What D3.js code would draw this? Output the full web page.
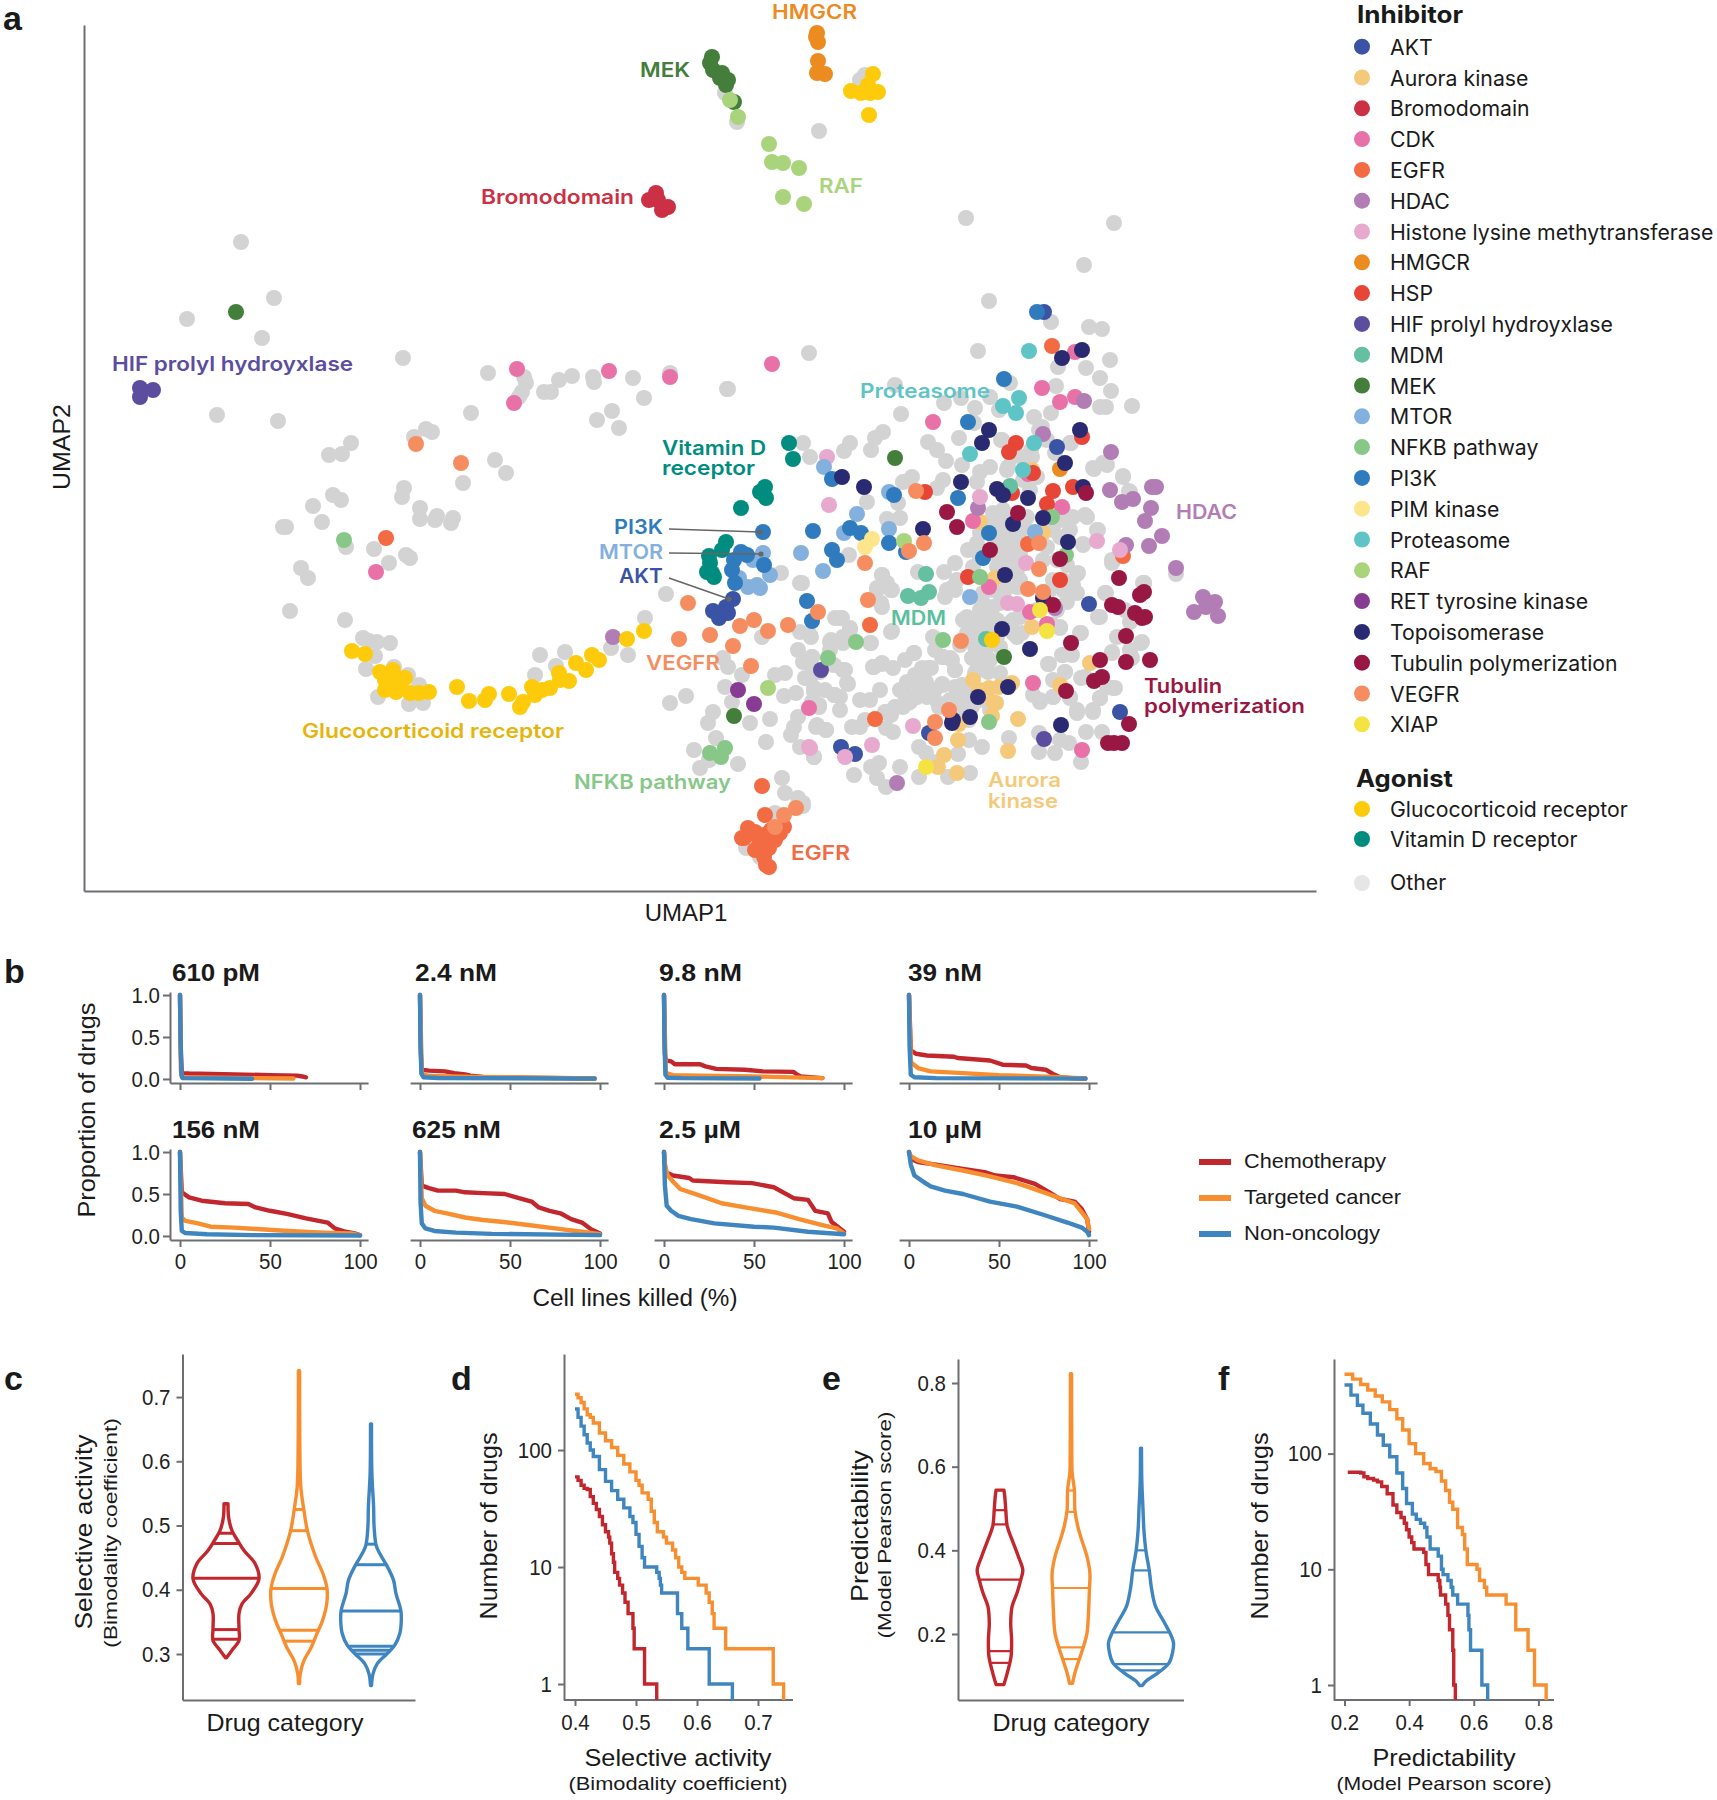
<!DOCTYPE html>
<html><head><meta charset="utf-8">
<script src="https://cdn.jsdelivr.net/npm/d3@7"></script>
<style>
html,body{margin:0;padding:0;background:#fff}
svg{display:block}
text{font-family:"Liberation Sans",sans-serif;fill:#1a1a1a}
.axis path,.axis line{stroke:#6d6e71;stroke-width:2;fill:none}
.axis text{font-family:"Liberation Sans",sans-serif;font-size:22px;fill:#222}
</style></head><body>
<svg id="c" width="1717" height="1800"></svg>
<script>
// ---------- Panel a data: UMAP coordinates ----------
const other=[[241,242],[274,298],[187,319],[262,338],[403,358],[217,415],[278,421],[488,373],[524,377],[526,383],[522,392],[519,397],[544,392],[551,392],[559,380],[572,376],[593,377],[594,382],[633,378],[644,398],[612,411],[597,420],[619,428],[670,373],[727,389],[471,413],[351,443],[329,455],[342,454],[414,437],[426,429],[432,432],[495,460],[404,488],[402,497],[420,508],[437,516],[420,519],[453,518],[463,483],[506,473],[313,506],[333,495],[341,500],[283,527],[389,563],[406,555],[301,568],[308,578],[290,611],[286,527],[322,522],[346,547],[374,549],[410,558],[345,620],[451,523],[435,520],
[363,638],[369,641],[377,642],[390,643],[375,656],[366,669],[394,667],[408,675],[378,697],[419,685],[409,704],[423,703],[535,675],[540,655],[565,652],[556,666],[611,648],[645,618],[628,655],[666,594],[686,696],[670,703],[723,658],[728,667],[742,675],[725,687],[713,712],[708,723],[732,702],[750,723],[770,719],[766,742],[716,738],[694,750],[700,768],[709,760],[738,764],[782,778],[785,793],[803,806],[798,798],[775,813],[746,848],[760,857],[800,583],[781,573],[800,632],[811,637],[762,637],[835,618],[830,642],[812,657],[809,663],[805,678],[785,673],[775,675],[784,696],[796,693],[814,692],[812,702],[835,695],[798,717],[791,735],[816,727],[826,730],[800,747],[814,757],[819,707],[794,727],
[860,80],[865,75],[819,131],[737,122],[725,93],
[966,218],[1114,223],[1084,265],[989,301],[1051,322],[1089,327],[1102,329],[978,351],[809,353],[728,389],[1110,360],[1086,368],[1058,367],[1100,378],[1111,391],[1056,386],[1132,406],[1106,407],[1100,407],[1034,417],[1051,413],[1010,383],[990,397],[999,410],[961,398],[944,403],[975,408],[895,385],[901,414],[974,423],[1039,430],[959,438],[928,442],[937,450],[946,461],[883,432],[875,438],[871,450],[850,443],[844,451],[803,443],[810,457],[1002,440],[1031,450],[1071,443],[1107,465],[1094,469],[1123,476],[1129,491],[1085,515],[1098,530],[1083,544],[1113,561],[1144,583],[1176,574],[1077,574],[1106,593],
[962,465],[990,467],[980,472],[977,482],[1008,467],[1001,440],[943,480],[937,488],[912,477],[903,482],[898,503],[867,502],[900,518],[887,519],[849,555],[882,575],[887,583],[892,590],[877,588],[882,607],[892,631],[918,572],[955,563],[968,550],[944,572],[947,590],[957,580],[955,590],[945,597],[987,523],[980,533],[993,513],[1003,510],[1003,520],[1007,537],[1013,547],[1003,547],[995,540],[1007,557],[1015,558],[997,567],[993,553],[1013,530],[1017,570],[1020,580],[993,590],[983,593],[1007,588],[993,607],[980,610],[973,622],[967,617],[987,620],[967,633],[983,630],[977,642],[997,637],[1017,637],[1020,617],[1010,623],[972,658],[983,657],[977,670],[988,672],[942,657],[952,660],[955,670],[914,653],[933,637],[873,667],[882,664],[922,670],[928,668],[917,680],[907,683],[922,687],[942,684],[927,697],[915,697],[908,703],[895,707],[885,712],[938,703],[958,690],[963,700],[957,707],[972,707],[847,683],[840,697],[845,670],[870,643],[850,630],[843,637],[842,618],
[1023,480],[1037,477],[1030,490],[1013,517],[1063,510],[1070,530],[1053,530],[1073,517],[1060,520],[1025,528],[1087,517],[1097,530],[1083,545],[1112,560],[1078,573],[1077,593],[1063,590],[1067,602],[1057,610],[1098,617],[1080,633],[1060,627],[1049,664],[1065,672],[1053,680],[1063,655],[1070,653],[1085,677],[1033,695],[1040,702],[1053,697],[1070,697],[1077,710],[1093,710],[1100,698],[1115,688],[1107,687],[1112,653],[1117,637],[1130,650],[1142,642],[1130,622],[1125,610],[1143,583],[1105,593],[1112,563],[1123,477],[1130,492],[1093,468],[1103,463],[1055,453],[1070,443],[1042,427],[1047,440],[1032,457],[1022,457],[1012,457],[1007,470],[1057,560],[1043,560],[1053,580],[1063,580],[1003,593],[1023,587],[1060,537],
[882,575],[877,590],[891,590],[881,603],[840,618],[850,628],[845,637],[831,640],[843,643],[871,643],[810,635],[802,583],[891,632],[812,657],[803,662],[834,665],[843,670],[848,684],[834,695],[810,678],[814,688],[819,705],[914,653],[874,667],[882,663],[943,657],[950,658],[955,670],[922,668],[931,668],[919,675],[907,682],[926,682],[920,688],[929,695],[917,697],[910,702],[903,707],[896,707],[891,715],[886,712],[865,720],[852,727],[860,727],[886,728],[893,732],[826,730],[817,725],[943,685],[939,707],[955,687],[962,685],[957,697],[962,703],[969,693],[969,720],[969,740],[982,747],[958,754],[1009,738],[919,747],[926,753],[933,762],[919,777],[948,777],[970,773],[900,767],[879,763],[871,767],[854,775],[877,778],[886,787],[814,757],[803,803],[1040,700],[1053,697],[1070,698],[1077,713],[1093,712],[1100,698],[1113,688],[1048,664],[1065,672],[1081,678],[1112,652],[1072,655],[1062,655],[1132,658],[1141,643],[1144,583],[1100,617],[1081,633],[1060,628],[1039,733],[1060,740],[1069,743],[1055,753],[1039,752],[1086,732],[1102,732],[1081,762],
[997,517],[1017,517],[1027,517],[1000,530],[1010,530],[1020,530],[977,543],[997,543],[1017,543],[1023,543],[978,553],[1000,553],[1020,553],[973,567],[1000,567],[1008,567],[953,587],[1017,587],[983,603],[1000,603],[963,620],[972,620],[997,620],[1013,620],[975,633],[990,633],[1013,633],[1022,633],[975,647],[987,647],[1000,647],[980,660],[990,660],[975,673],[1000,673],[1047,547],[1067,565],[1073,585],[1050,590],[1037,610],[1053,625],[900,690],[915,675],[935,690],[950,700],[965,715],[980,700],[990,710],[905,695],[830,650],[820,672],[798,650],[825,690],[840,710],[860,700],[880,690],[870,700],[893,668],[905,660],[935,650],[960,645]];
const akt=[[1044,312],[733,599],[726,607],[713,611],[719,618],[728,613],[1057,447],[1089,604],[1120,712],[929,733],[841,747],[855,754]];
const aurora=[[973,680],[979,690],[989,688],[999,687],[1012,683],[993,702],[996,703],[992,716],[1018,719],[959,724],[958,740],[944,755],[938,767],[957,773],[1008,751],[1090,663],[1060,685],[1032,627],[980,522],[995,578],[1043,533],[1032,470]];
const bromodomain=[[656,193],[649,200],[662,210],[668,207],[658,200]];
const cdk=[[517,369],[609,371],[670,377],[514,403],[772,364],[1075,352],[1042,388],[1060,402],[1075,397],[933,422],[376,572],[809,708],[1028,474],[973,521],[1062,507],[989,587],[1030,612],[1047,624],[1033,683],[1082,750]];
const egfr=[[1052,346],[1028,544],[1123,556],[870,625],[386,538],[762,786],[765,815],[784,827],[748,828],[755,832],[744,838],[764,835],[775,840],[769,848],[755,850],[742,838],[764,857],[769,867],[766,865],[760,850],[771,830],[759,840],[780,833],[875,719]];
const hdac=[[1111,452],[1110,490],[1152,487],[1156,487],[1122,502],[1133,499],[1151,508],[1145,521],[1162,536],[1149,546],[1126,545],[1176,568],[1043,434],[1084,401],[978,508],[613,637],[1055,608],[1203,597],[1215,602],[1206,607],[1194,612],[1218,616],[897,783]];
const histone=[[827,457],[829,505],[980,497],[1097,541],[1026,563],[1008,603],[1017,604],[1120,550],[810,748],[913,726],[809,747],[872,745],[845,757]];
const hmgcr=[[817,33],[818,42],[816,37],[818,61],[817,73],[825,74],[1060,469]];
const hsp=[[1082,437],[1016,443],[1009,452],[1033,473],[1053,491],[1047,504],[1073,487],[1012,493],[925,492],[968,577],[1060,580]];
const hif=[[140,388],[153,390],[140,397],[821,670],[1044,739]];
const mdm=[[926,574],[908,596],[921,598],[929,592],[986,639],[1010,486]];
const mek=[[712,57],[710,63],[713,70],[722,73],[720,78],[728,80],[726,85],[734,102],[236,312],[895,458],[734,716],[1004,657]];
const mtor=[[824,467],[889,492],[857,514],[844,533],[889,529],[801,553],[823,571],[1035,532],[763,553],[770,575],[970,597],[753,560],[748,587],[757,585],[760,588],[739,578]];
const nfkb=[[1052,517],[1066,555],[980,577],[943,640],[856,642],[344,540],[828,658],[710,753],[721,757],[725,748],[989,722]];
const pi3k=[[1037,312],[1004,379],[968,422],[832,479],[894,495],[958,498],[813,531],[850,528],[861,533],[889,543],[832,550],[837,560],[906,552],[983,558],[989,533],[763,532],[741,552],[747,555],[734,560],[732,570],[764,565],[735,583],[807,601],[812,621]];
const pim=[[872,539],[865,547]];
const proteasome=[[1029,351],[1019,398],[1003,406],[1016,413],[1034,443],[970,454],[1023,470]];
const raf=[[730,100],[738,117],[769,144],[772,162],[783,163],[799,168],[783,197],[804,204],[768,688],[904,541]];
const ret=[[738,690],[754,704]];
const topo=[[989,430],[982,443],[842,477],[864,487],[961,482],[997,489],[1003,495],[1028,498],[1080,430],[1065,463],[1083,487],[1043,518],[1013,524],[923,529],[1068,542],[1005,575],[1002,629],[1030,649],[1043,598],[978,697],[1008,687],[970,717],[953,720],[1082,350],[1062,358],[1061,725],[952,723]];
const tubulin=[[947,512],[957,527],[1018,513],[990,550],[1060,559],[1086,493],[1119,578],[1140,595],[1144,592],[1112,605],[1118,607],[1135,613],[1142,618],[1145,617],[1126,636],[1071,643],[1100,660],[1126,662],[1150,660],[1102,677],[1094,681],[1066,691],[1053,605],[1129,724],[1108,743],[1114,743],[1122,743]];
const vegfr=[[416,444],[461,463],[688,603],[679,639],[710,635],[740,626],[754,620],[768,631],[788,625],[733,646],[751,666],[818,612],[796,808],[784,815],[775,827],[916,491],[924,543],[909,551],[865,563],[1039,569],[1028,589],[1043,592],[868,600],[961,641],[1039,543],[949,710],[935,722],[935,738]];
const xiap=[[1040,610],[1047,631],[926,767]];
const glucocorticoid=[[873,74],[851,91],[861,93],[868,85],[870,93],[878,92],[869,115],[352,651],[365,654],[380,672],[393,670],[405,678],[385,680],[394,680],[400,683],[385,690],[396,692],[410,693],[419,693],[429,692],[457,687],[469,701],[485,700],[489,694],[509,694],[523,702],[520,707],[532,687],[535,695],[542,690],[550,688],[559,673],[569,681],[560,680],[576,663],[586,670],[592,655],[599,660],[627,639],[644,631],[992,640]];
const vitaminD=[[789,443],[793,459],[765,487],[760,492],[766,498],[741,508],[726,542],[722,550],[709,556],[710,563],[712,573],[707,572],[714,577]];

const inhibitorNames=["AKT","Aurora kinase","Bromodomain","CDK","EGFR","HDAC","Histone lysine methytransferase","HMGCR","HSP","HIF prolyl hydroyxlase","MDM","MEK","MTOR","NFKB pathway","PI3K","PIM kinase","Proteasome","RAF","RET tyrosine kinase","Topoisomerase","Tubulin polymerization","VEGFR","XIAP"];
const inhibitorColors=["#3a53a4","#f5c97a","#cb3044","#e871a8","#f26b43","#b27cb5","#e8a9cf","#ec8b1f","#e74536","#5c4d9f","#65bfa1","#437e3a","#84b0de","#87c889","#2f7bbd","#fde58c","#5ec4c6","#a9d47b","#883b92","#2a2a72","#991743","#f68d60","#f4e343"];
const inhibitorPoints=[akt,aurora,bromodomain,cdk,egfr,hdac,histone,hmgcr,hsp,hif,mdm,mek,mtor,nfkb,pi3k,pim,proteasome,raf,ret,topo,tubulin,vegfr,xiap];
const agonistNames=["Glucocorticoid receptor","Vitamin D receptor"];
const agonistColors=["#fdcb0b","#008c7f"];
const agonistPoints=[glucocorticoid,vitaminD];

// ---------- Panel b data ----------
const doses=["610 pM","2.4 nM","9.8 nM","39 nM","156 nM","625 nM","2.5 µM","10 µM"];
const killRed=[
[[0,1],[.5,.3],[1,.07],[5,.065],[30,.055],[50,.045],[65,.04],[68,.03],[70,.02]],
[[0,1],[.5,.3],[1,.11],[5,.1],[14,.09],[19,.07],[25,.055],[28,.04],[35,.025],[57,.015],[80,.01],[97,.005]],
[[0,1],[.5,.3],[1,.22],[4,.21],[6,.175],[20,.175],[23,.15],[29,.12],[45,.11],[55,.09],[72,.085],[74,.05],[76,.03],[88,.01]],
[[0,1],[1,.34],[4,.3],[10,.28],[25,.265],[27,.25],[45,.22],[52,.17],[65,.16],[68,.13],[76,.11],[80,.06],[84,.02],[90,.01],[98,.005]],
[[0,1],[1,.52],[5,.46],[12,.42],[25,.39],[38,.38],[42,.34],[50,.3],[60,.26],[70,.21],[82,.16],[86,.09],[92,.05],[97,.03],[100,.01]],
[[0,1],[1,.6],[5,.57],[10,.54],[20,.54],[25,.52],[35,.51],[47,.5],[55,.45],[62,.41],[66,.34],[72,.3],[78,.27],[84,.2],[90,.16],[95,.08],[100,.03]],
[[0,1],[.5,.85],[1,.76],[5,.72],[14,.69],[16,.66],[35,.64],[49,.63],[61,.58],[72,.45],[80,.43],[84,.3],[91,.27],[93,.17],[100,.05]],
[[0,1],[1,.92],[5,.88],[15,.85],[30,.8],[42,.76],[48,.72],[58,.7],[70,.62],[78,.52],[84,.44],[92,.41],[96,.32],[99,.2],[100,.05]]];
const killOrange=[
[[0,1],[.5,.1],[1,.02],[40,.01],[63,.005]],
[[0,1],[1,.06],[5,.035],[30,.025],[57,.018],[97,.005]],
[[0,1],[1,.07],[5,.045],[20,.04],[50,.03],[88,.01]],
[[0,1],[1,.2],[5,.13],[12,.09],[30,.07],[50,.045],[80,.025],[98,.005]],
[[0,1],[1,.22],[3,.18],[10,.15],[17,.11],[30,.1],[45,.08],[60,.06],[80,.04],[95,.03],[100,.01]],
[[0,1],[1,.45],[3,.36],[8,.3],[15,.27],[25,.22],[35,.19],[45,.17],[60,.13],[75,.09],[90,.05],[100,.02]],
[[0,1],[.5,.85],[2,.72],[5,.65],[9,.56],[20,.48],[32,.39],[45,.34],[62,.28],[75,.2],[88,.13],[96,.09],[100,.03]],
[[0,1],[1,.95],[5,.9],[15,.84],[30,.78],[45,.71],[60,.63],[75,.52],[85,.44],[92,.39],[96,.28],[99,.2],[100,.08]]];
const killBlue=[
[[0,1],[.3,.5],[.8,.05],[1.5,.01],[40,.003]],
[[0,1],[.3,.4],[.8,.06],[2,.02],[10,.012],[97,.004]],
[[0,1],[.3,.4],[.8,.05],[2,.015],[10,.01],[53,.005]],
[[0,1],[.3,.4],[1,.05],[3,.02],[15,.01],[98,.004]],
[[0,1],[.4,.3],[1,.06],[3,.035],[15,.02],[40,.01],[100,.005]],
[[0,1],[.3,.4],[1,.15],[3,.09],[8,.06],[20,.04],[40,.025],[100,.01]],
[[0,1],[.5,.6],[1.5,.36],[4,.3],[8,.24],[15,.2],[28,.15],[50,.11],[61,.1],[80,.05],[100,.02]],
[[0,1],[1,.85],[3,.72],[7,.66],[12,.59],[20,.54],[30,.5],[45,.41],[60,.35],[75,.25],[88,.16],[96,.1],[99,.05],[100,.01]]];
const drugCategories=["Chemotherapy","Targeted cancer","Non-oncology"];
const drugColors=["#c1272d","#f78e2f","#3f85bf"];

// ---------- Panel c / e violins: [value, density] ----------
const bimodRed=[[.294,.5],[.306,6],[.321,13],[.339,13],[.363,13],[.378,16],[.394,25],[.417,33],[.441,29],[.461,18],[.477,11.5],[.492,6],[.513,2.6],[.534,2]];
const bimodOrange=[[.254,.6],[.269,1.2],[.29,5],[.308,11.5],[.332,18],[.352,23.5],[.378,27.7],[.402,28],[.425,24],[.451,16.7],[.492,8.4],[.526,4.7],[.56,1.8],[.633,.8],[.741,.6]];
const bimodBlue=[[.251,.5],[.269,2],[.285,6.3],[.3,15.7],[.313,23.5],[.332,28.8],[.352,30.3],[.368,29.8],[.394,25],[.415,22.5],[.438,15.7],[.456,8.9],[.469,5.2],[.498,3.1],[.529,2.6],[.581,.9],[.658,.5]];
const bimodQuant=[[.488,.472,.418,.338,.323],[.525,.492,.402,.337,.32],[.471,.439,.367,.312,.306,.3]];
const predRed=[[.079,3.9],[.107,7.3],[.147,11.1],[.186,11.6],[.226,10.7],[.266,12.1],[.298,17],[.33,20.8],[.353,22.8],[.385,18.4],[.425,12.1],[.457,7.3],[.496,5.8],[.528,4.8],[.544,3.9]];
const predOrange=[[.082,1.5],[.107,3.9],[.139,8.2],[.167,12.1],[.202,16],[.25,17.5],[.306,18.4],[.345,18.9],[.385,16],[.425,10.7],[.457,6.8],[.496,3.9],[.544,3.4],[.584,1.2],[.632,.8],[.822,.6]];
const predBlue=[[.077,1.5],[.087,4.8],[.107,17],[.131,28.1],[.155,31.5],[.179,32.5],[.202,29],[.234,21.8],[.266,14.5],[.306,10.7],[.353,8.2],[.401,4.8],[.449,2.9],[.504,1.9],[.568,.8],[.644,.5]];
const predQuant=[[.496,.462,.33,.159,.131],[.543,.492,.31,.168,.14],[.4,.352,.204,.128,.113]];

// ---------- Panel d / f survival counts: [score, number of drugs] ----------
const bimodCountRed=[[.4,59],[.405,55],[.41,50],[.415,47],[.42,46],[.425,40],[.43,35],[.435,31],[.44,27],[.445,23],[.45,20],[.455,18],[.457,16],[.46,13],[.463,11],[.465,9],[.47,8],[.473,7],[.478,6],[.482,5],[.487,4],[.495,3],[.497,2],[.514,1],[.534,.73]];
const bimodCountOrange=[[.4,300],[.405,280],[.41,255],[.415,225],[.42,200],[.425,190],[.43,170],[.44,140],[.45,120],[.46,105],[.47,90],[.48,76],[.49,65],[.5,55],[.505,50],[.51,43],[.52,38],[.525,30],[.53,24],[.535,20],[.545,18],[.55,16],[.56,14],[.565,12],[.57,10],[.575,9],[.58,8],[.602,7],[.615,6],[.62,5],[.625,4],[.628,3],[.647,2],[.725,1],[.742,.73]];
const bimodCountBlue=[[.4,224],[.405,190],[.41,160],[.415,135],[.42,115],[.425,100],[.43,88],[.44,68],[.45,54],[.46,45],[.47,38],[.48,32],[.49,27],[.495,24],[.5,19],[.505,15],[.51,12],[.514,10],[.534,9],[.538,8],[.54,7],[.542,6],[.568,4],[.575,3],[.585,2],[.62,1],[.658,.73]];
const predCountRed=[[.21,69],[.25,68],[.26,63],[.272,61],[.29,59],[.302,57],[.315,52],[.332,45],[.35,36],[.362,31],[.375,28],[.385,25],[.392,22],[.4,19],[.408,17],[.415,15],[.445,14],[.452,11],[.46,9],[.49,8],[.495,7],[.497,6],[.513,5],[.52,4],[.525,3],[.535,2],[.538,1],[.543,.742]];
const predCountOrange=[[.2,485],[.225,440],[.25,395],[.272,355],[.295,315],[.317,280],[.34,240],[.362,200],[.38,160],[.4,122],[.42,100],[.445,82],[.465,74],[.483,70],[.5,58],[.513,48],[.525,38],[.535,33],[.55,23],[.565,20],[.572,15],[.58,11],[.61,10],[.618,8],[.633,7],[.64,6],[.7,5],[.73,3],[.768,2],[.788,1],[.824,.742]];
const predCountBlue=[[.2,392],[.22,320],[.24,262],[.257,223],[.28,180],[.302,145],[.32,118],[.34,94],[.362,68],[.38,50],[.392,37],[.41,30],[.422,27],[.435,25],[.448,23],[.455,19],[.465,15],[.49,13],[.5,10],[.505,9],[.52,8],[.53,7],[.535,6],[.55,5],[.582,4],[.585,3],[.59,2],[.625,1],[.643,.742]];

// ---------- drawing ----------
const svg=d3.select("#c");
function label(t,x,y,o={}){
  const e=svg.append("text").attr("x",x).attr("y",y).text(t)
    .attr("text-anchor",o.anchor||"start").style("font-size",(o.size||20)+"px");
  if(o.weight)e.style("font-weight",o.weight);
  if(o.family)e.style("font-family",o.family);
  if(o.fill)e.style("fill",o.fill);
  if(o.len)e.attr("textLength",o.len).attr("lengthAdjust","spacingAndGlyphs");
  if(o.rot)e.attr("transform",`rotate(${o.rot} ${x} ${y})`);
  return e;
}
const sans="Inter";
// Panel a
const ux=d3.scaleLinear().domain([84,1316]).range([84,1316]);
const uy=d3.scaleLinear().domain([891,25]).range([891,25]);
svg.append("g").attr("class","axis").attr("transform","translate(84,0)").call(d3.axisLeft(uy).tickValues([]).tickSizeOuter(0));
svg.append("g").attr("class","axis").attr("transform","translate(0,891)").call(d3.axisBottom(ux).tickValues([]).tickSizeOuter(0));
const R=8;
function dots(pts,col){svg.append("g").selectAll("circle").data(pts).join("circle").attr("cx",d=>ux(d[0])).attr("cy",d=>uy(d[1])).attr("r",R).attr("fill",col);}
dots(other,"#d3d3d3");
inhibitorPoints.forEach((p,i)=>dots(p,inhibitorColors[i]));
agonistPoints.forEach((p,i)=>dots(p,agonistColors[i]));
// leader lines for PI3K / MTOR / AKT
const leaders=[[669,529,760,532],[669,553,761,554],[669,578,729,599]];
leaders.forEach(l=>{
  svg.append("line").attr("x1",l[0]).attr("y1",l[1]).attr("x2",l[2]).attr("y2",l[3]).attr("stroke","#666").attr("stroke-width",1.6);
  svg.append("circle").attr("cx",l[2]).attr("cy",l[3]).attr("r",2.6).attr("fill","#666");
});
const clusterLabels=[
["HMGCR",772,19,85,"#ec8b1f"],["MEK",640,77,50,"#437e3a"],["RAF",819,193,44,"#a9d47b"],["Bromodomain",481,204,153,"#cb3044"],
["HIF prolyl hydroyxlase",112,371,241,"#5c4d9f"],["Proteasome",860,398,130,"#5ec4c6"],["Vitamin D",662,455,104,"#008c7f"],["receptor",662,475,93,"#008c7f"],
["HDAC",1176,519,61,"#b27cb5"],["PI3K",614,534,49,"#2f7bbd"],["MTOR",599,559,64,"#84b0de"],["AKT",619,583,44,"#3a53a4"],["MDM",891,625,55,"#5bbf9e"],
["VEGFR",646,670,74,"#f68d60"],["Glucocorticoid receptor",302,738,262,"#e5b50e"],["NFKB pathway",574,789,157,"#87c889"],["EGFR",791,860,59,"#f26b43"],
["Aurora",988,787,73,"#f5c97a"],["kinase",988,808,70,"#f5c97a"],["Tubulin",1144,693,78,"#991743"],["polymerization",1144,713,161,"#991743"]];
clusterLabels.forEach(l=>label(l[0],l[1],l[2],{size:20,weight:600,family:sans,fill:l[4],len:l[3]}));
label("UMAP1",686,921,{anchor:"middle",size:24});
label("UMAP2",70,447,{anchor:"middle",size:24,rot:-90,len:86});
// legend
const lx=1362,tx=1390;
const legendSize=21.25;
label("Inhibitor",1357,23,{size:24,weight:700,family:sans,len:106});
inhibitorNames.forEach((n,i)=>{
  const y=46.7+i*30.8;
  svg.append("circle").attr("cx",lx).attr("cy",y).attr("r",8).attr("fill",inhibitorColors[i]);
  label(n,tx,y+8,{size:legendSize,family:sans});
});
label("Agonist",1356,787,{size:24,weight:700,family:sans,len:97});
agonistNames.forEach((n,i)=>{
  const y=809+i*30;
  svg.append("circle").attr("cx",lx).attr("cy",y).attr("r",8).attr("fill",agonistColors[i]);
  label(n,tx,y+8,{size:legendSize,family:sans});
});
svg.append("circle").attr("cx",lx).attr("cy",883).attr("r",8).attr("fill","#e6e6e6");
label("Other",tx,890,{size:legendSize,family:sans});
// panel letters
[["a",3,30],["b",4,983],["c",4,1390],["d",451,1390],["e",822,1390],["f",1218,1390]].forEach(l=>label(l[0],l[1],l[2],{size:34,weight:700}));

// Panel b
const zeroX=[180,420,664,909];
const zeroY=[1079,1236];
doses.forEach((dose,i)=>{
  const col=i%4,row=i<4?0:1;
  const x=d3.scaleLinear().domain([-5.5,104.5]).range([zeroX[col]-9.9,zeroX[col]+188.1]);
  const y=d3.scaleLinear().domain([-.048,1.036]).range([zeroY[row]+4,zeroY[row]-87]);
  const g=svg.append("g");
  const a=g.append("g").attr("class","axis").attr("transform",`translate(0,${zeroY[row]+4})`).call(d3.axisBottom(x).tickValues([0,50,100]).tickSize(7).tickSizeOuter(0).tickFormat(row?d3.format("d"):""));
  a.selectAll("text").attr("dy","0.85em");
  if(col===0){
    g.append("g").attr("class","axis").attr("transform",`translate(${zeroX[col]-10},0)`).call(d3.axisLeft(y).tickValues([0,.5,1]).tickSize(7).tickSizeOuter(0).tickFormat(d3.format(".1f")));
  }
  [killRed,killOrange,killBlue].forEach((s,k)=>{
    g.append("path").attr("d",d3.line().x(d=>x(d[0])).y(d=>y(d[1]))(s[i])).attr("fill","none").attr("stroke",drugColors[k]).attr("stroke-width",4.4).attr("stroke-linejoin","round").attr("stroke-linecap","round");
  });
});
const titleX=[[172,88],[415,82],[659,83],[908,74],[172,88],[412,89],[659,82],[908,74]];
doses.forEach((d,i)=>label(d,titleX[i][0],i<4?981:1138,{size:24,weight:700,len:titleX[i][1]}));
label("Proportion of drugs",95,1110,{anchor:"middle",size:24,rot:-90,len:215});
label("Cell lines killed (%)",635,1306,{anchor:"middle",size:23,len:205});
drugCategories.forEach((n,i)=>{
  const y=[1162,1198,1234][i];
  svg.append("line").attr("x1",1199).attr("x2",1231).attr("y1",y).attr("y2",y).attr("stroke",drugColors[i]).attr("stroke-width",6);
  label(n,1244,y+6,{size:21,len:[142,157,136][i]});
});

// Panels c,e violins
function violin(xL,xR,yTop,yBottom,dom,ticks,fmt,centers,profiles,quants,sw,qw){
  const y=d3.scaleLinear().domain(dom).range([yBottom,yTop]);
  svg.append("g").attr("class","axis").attr("transform",`translate(${xL},0)`).call(d3.axisLeft(y).tickValues(ticks).tickSize(6).tickPadding(6).tickSizeOuter(0).tickFormat(d3.format(fmt)));
  const xa=d3.scaleLinear().domain([0,1]).range([xL,xR]);
  svg.append("g").attr("class","axis").attr("transform",`translate(0,${yBottom})`).call(d3.axisBottom(xa).tickValues([]).tickSizeOuter(0));
  profiles.forEach((p,k)=>{
    const c=centers[k];
    const area=d3.area().y(d=>y(d[0])).x0(d=>c-d[1]).x1(d=>c+d[1]).curve(d3.curveCatmullRom);
    svg.append("path").attr("d",area(p)).attr("fill","none").attr("stroke",drugColors[k]).attr("stroke-width",sw).attr("stroke-linejoin","round");
    const w=d3.scaleLinear().domain(p.map(d=>d[0])).range(p.map(d=>d[1]));
    svg.append("g").selectAll("line").data(quants[k]).join("line").attr("x1",d=>c-w(d)).attr("x2",d=>c+w(d)).attr("y1",d=>y(d)).attr("y2",d=>y(d)).attr("stroke",drugColors[k]).attr("stroke-width",qw);
  });
}
violin(182.5,415,1354,1700,[.2284,.767],[.3,.4,.5,.6,.7],".1f",[226,299,371],[bimodRed,bimodOrange,bimodBlue],bimodQuant,3.4,3);
violin(958,1183.5,1359,1700,[.0422,.8574],[.2,.4,.6,.8],".1f",[1000,1071,1141],[predRed,predOrange,predBlue],predQuant,3.4,2.2);
label("Selective activity",92,1532,{anchor:"middle",size:24,rot:-90,len:195});
label("(Bimodality coefficient)",117,1533,{anchor:"middle",size:19,rot:-90,len:230});
label("Drug category",285,1731,{anchor:"middle",size:24,len:157});
label("Predictability",868,1526,{anchor:"middle",size:24,rot:-90,len:152});
label("(Model Pearson score)",891,1525,{anchor:"middle",size:19,rot:-90,len:227});
label("Drug category",1071,1731,{anchor:"middle",size:24,len:157});

// Panels d,f
function surv(xL,xR,yTop,yBottom,xs,ys,xTicks,series){
  const x=d3.scaleLinear().domain([xs[0],xs[1]]).range([xs[2],xs[3]]);
  const y=d3.scaleLog().domain(ys).range([yBottom,yTop]);
  svg.append("g").attr("class","axis").attr("transform",`translate(${xL},0)`).call(d3.axisLeft(y).tickValues([1,10,100]).tickSize(6).tickPadding(6).tickSizeOuter(0).tickFormat(d3.format("d")));
  svg.append("g").attr("class","axis").attr("transform",`translate(0,${yBottom})`).call(g=>{
    g.call(d3.axisBottom(x).tickValues(xTicks).tickSize(6).tickSizeOuter(0).tickFormat(d3.format(".1f")));
    g.select(".domain").attr("d",`M${xL},0H${xR}`);
    g.selectAll("text").attr("dy","0.95em");
  });
  series.forEach((s,k)=>{
    svg.append("path").attr("d",d3.line().x(d=>x(d[0])).y(d=>y(d[1])).curve(d3.curveStepAfter)(s)).attr("fill","none").attr("stroke",drugColors[k]).attr("stroke-width",3.4);
  });
}
surv(564,793,1354,1700,[.4,.7,575,758],[.73,662],[.4,.5,.6,.7],[bimodCountRed,bimodCountOrange,bimodCountBlue]);
label("Number of drugs",497,1526,{anchor:"middle",size:24,rot:-90,len:187});
label("Selective activity",678,1766,{anchor:"middle",size:24,len:187});
label("(Bimodality coefficient)",678,1790,{anchor:"middle",size:19,len:219});
surv(1334,1554,1359,1700,[.2,.8,1344.5,1538.4],[.742,657],[.2,.4,.6,.8],[predCountRed,predCountOrange,predCountBlue]);
label("Number of drugs",1268,1526,{anchor:"middle",size:24,rot:-90,len:187});
label("Predictability",1444,1766,{anchor:"middle",size:24,len:143});
label("(Model Pearson score)",1444,1790,{anchor:"middle",size:19,len:215});
// tick labels in the reference are slightly narrow for their height
d3.selectAll(".axis text").each(function(){
  const n=this.getComputedTextLength();
  if(n>0){d3.select(this).attr("textLength",n*.93).attr("lengthAdjust","spacingAndGlyphs");}
});
</script>
</body></html>
